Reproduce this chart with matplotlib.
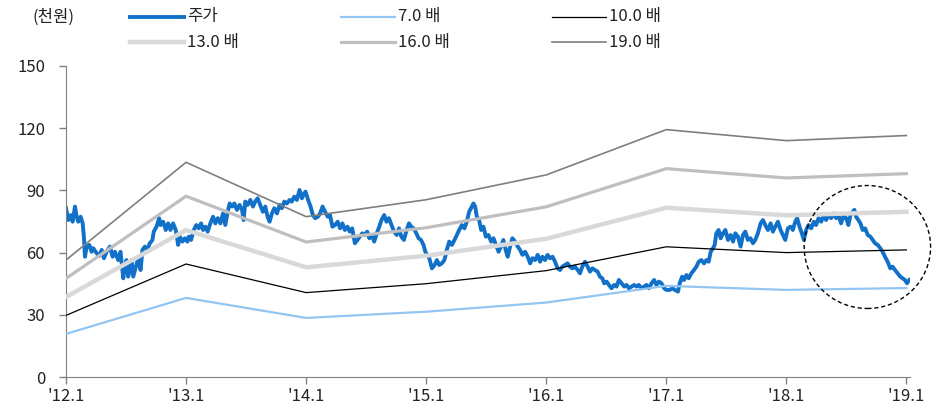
import matplotlib
matplotlib.use("Agg")
import matplotlib.pyplot as plt
from matplotlib.lines import Line2D
from matplotlib.patches import Ellipse
import numpy as np

plt.rcParams['font.family'] = ['Noto Sans CJK KR', 'DejaVu Sans']

# --- Year-start EPS used for the PER bands (thousand won) ---
band_years = [0, 1, 2, 3, 4, 5, 6, 7]
eps = [2.97, 5.45, 4.07, 4.50, 5.13, 6.28, 6.00, 6.13]
multiples = [7.0, 10.0, 13.0, 16.0, 19.0]

tick_labels = ["'12.1", "'13.1", "'14.1", "'15.1", "'16.1", "'17.1", "'18.1", "'19.1"]

# --- Share price (years since Jan 2012, thousand won) ---
price_t = [
    0.000, 0.019, 0.039, 0.055, 0.075, 0.089, 0.102, 0.122, 0.139, 0.150, 0.158, 0.172, 0.194, 0.213,
    0.227, 0.255, 0.277, 0.297, 0.316, 0.338, 0.366, 0.388, 0.407, 0.435, 0.454, 0.477, 0.490, 0.504,
    0.518, 0.532, 0.546, 0.560, 0.582, 0.601, 0.621, 0.637, 0.657, 0.676, 0.698, 0.720, 0.731, 0.754,
    0.776, 0.787, 0.809, 0.831, 0.851, 0.870, 0.892, 0.914, 0.934, 0.948, 0.970, 0.989, 1.011,
    1.022, 1.042, 1.064, 1.086, 1.106, 1.125, 1.142, 1.161, 1.180, 1.202, 1.225, 1.244, 1.264, 1.286,
    1.308, 1.327, 1.347, 1.363, 1.383, 1.402, 1.424, 1.446, 1.466, 1.480, 1.493, 1.513, 1.535, 1.557,
    1.576, 1.596, 1.618, 1.640, 1.660, 1.679, 1.696, 1.715, 1.735, 1.757, 1.779, 1.798, 1.818, 1.840,
    1.862, 1.881, 1.901, 1.923, 1.945, 1.965, 1.984,
    1.995, 2.017, 2.037, 2.056, 2.076, 2.098, 2.117, 2.137, 2.158, 2.180, 2.199, 2.219, 2.241, 2.263,
    2.283, 2.302, 2.323, 2.345, 2.364, 2.384, 2.406, 2.428, 2.448, 2.467, 2.486, 2.509, 2.527, 2.547,
    2.567, 2.589, 2.609, 2.628, 2.650, 2.670, 2.690, 2.711, 2.733, 2.755, 2.774, 2.793, 2.815, 2.837,
    2.857, 2.876, 2.896, 2.918, 2.937, 2.957, 2.978, 2.993,
    3.026, 3.048, 3.070, 3.089, 3.109, 3.130, 3.152, 3.172, 3.192, 3.214, 3.236, 3.255, 3.275, 3.297,
    3.319, 3.338, 3.358, 3.380, 3.394, 3.408, 3.422, 3.441, 3.458, 3.477, 3.497, 3.519, 3.541, 3.561,
    3.581, 3.603, 3.623, 3.643, 3.662, 3.679, 3.699, 3.718, 3.741, 3.763, 3.782, 3.802, 3.824, 3.846,
    3.866, 3.885, 3.907, 3.929, 3.949, 3.968, 3.990, 4.011, 4.031, 4.053,
    4.073, 4.095, 4.115, 4.134, 4.156, 4.178, 4.198, 4.217, 4.239, 4.262, 4.281, 4.300, 4.323, 4.345,
    4.364, 4.384, 4.406, 4.428, 4.447, 4.467, 4.483, 4.503, 4.522, 4.544, 4.566, 4.586, 4.605, 4.627,
    4.650, 4.669, 4.688, 4.711, 4.733, 4.752, 4.771, 4.794, 4.816, 4.835, 4.855, 4.877, 4.899, 4.918,
    4.938, 4.960, 4.982, 5.001, 5.029, 5.051,
    5.071, 5.098, 5.112, 5.132, 5.148, 5.168, 5.187, 5.209, 5.231, 5.251, 5.270, 5.292, 5.314, 5.334,
    5.353, 5.370, 5.389, 5.403, 5.417, 5.436, 5.453, 5.473, 5.492, 5.514, 5.536, 5.556, 5.575, 5.597,
    5.619, 5.639, 5.658, 5.680, 5.702, 5.722, 5.741, 5.763, 5.786, 5.805, 5.824, 5.847, 5.869, 5.888,
    5.908, 5.930, 5.952, 5.971, 5.991, 6.013, 6.035, 6.049,
    6.054, 6.074, 6.090, 6.110, 6.129, 6.146, 6.165, 6.185, 6.207, 6.229, 6.248, 6.268, 6.290, 6.312,
    6.331, 6.351, 6.373, 6.395, 6.415, 6.434, 6.456, 6.478, 6.498, 6.517, 6.534, 6.553, 6.567, 6.581,
    6.600, 6.617, 6.636, 6.656, 6.678, 6.700, 6.719, 6.739, 6.761, 6.783, 6.802, 6.822, 6.844, 6.866,
    6.885, 6.905, 6.927, 6.949, 6.969, 6.988, 7.005, 7.024,
]
price_v = [
    81.4, 75.7, 78.1, 74.9, 82.2, 77.3, 74.9, 77.3, 74.1, 66.9, 58.0, 62.9, 63.7, 60.4,
    62.1, 59.7, 58.4, 61.3, 57.3, 60.4, 62.9, 58.0, 60.4, 56.4, 60.4, 47.6, 53.2, 56.4,
    48.4, 51.6, 56.4, 48.4, 53.2, 57.3, 51.6, 61.3, 62.9, 61.3, 64.5, 66.1, 70.1, 72.5,
    76.6, 73.3, 74.9, 70.9, 74.1, 70.9, 74.1, 70.9, 63.7, 67.7, 65.3, 66.9, 65.3,
    67.7, 66.1, 70.9, 73.3, 71.7, 74.1, 70.9, 72.5, 70.1, 74.1, 77.3, 74.1, 76.6, 74.1,
    78.9, 73.3, 79.7, 83.7, 82.2, 83.7, 80.6, 83.0, 80.6, 75.7, 84.6, 83.0, 85.4, 82.2,
    84.6, 86.2, 83.0, 79.7, 82.2, 77.3, 74.9, 78.9, 81.4, 78.9, 83.0, 81.4, 84.6, 83.7,
    85.4, 84.6, 87.0, 85.4, 90.2, 86.2, 88.6,
    89.4, 85.4, 82.2, 78.1, 76.6, 77.3, 78.9, 82.2, 79.7, 77.3, 78.1, 72.5, 73.3, 74.9,
    71.7, 74.1, 70.9, 72.5, 70.1, 71.7, 64.5, 66.1, 67.7, 69.3, 68.5, 70.1, 66.9, 68.5,
    65.3, 69.3, 72.5, 75.7, 78.1, 74.9, 76.6, 73.3, 70.1, 68.5, 71.7, 67.7, 66.1, 70.9,
    74.1, 72.5, 71.7, 69.3, 66.9, 66.1, 63.7, 60.4,
    57.3, 52.4, 54.0, 56.4, 54.0, 54.8, 56.4, 61.3, 65.3, 63.7, 66.1, 68.5, 70.9, 73.3,
    71.7, 74.9, 79.7, 82.2, 83.7, 82.2, 77.3, 75.7, 70.9, 72.5, 67.7, 68.5, 65.3, 66.9,
    63.7, 60.4, 62.9, 66.1, 61.3, 58.0, 62.9, 66.9, 65.3, 62.9, 61.3, 58.9, 60.4, 58.0,
    54.8, 57.3, 56.4, 58.9, 55.6, 58.0, 56.4, 58.9, 57.3, 58.0,
    55.6, 52.4, 51.6, 53.2, 54.0, 54.8, 53.2, 52.4, 53.2, 51.6, 50.0, 53.2, 55.6, 53.2,
    50.8, 52.4, 51.6, 50.8, 48.4, 47.6, 45.2, 46.0, 44.4, 42.8, 44.4, 43.6, 46.8, 45.2,
    43.6, 44.4, 42.8, 43.6, 44.4, 43.6, 44.4, 42.8, 43.6, 44.4, 42.8, 45.2, 46.8, 44.4,
    46.0, 45.2, 42.8, 42.0, 42.0, 42.8,
    42.0, 41.2, 45.2, 48.4, 46.8, 49.2, 47.6, 50.0, 51.6, 53.2, 55.6, 56.4, 54.8, 56.4,
    55.6, 60.4, 62.1, 63.7, 69.3, 70.9, 66.9, 69.3, 70.9, 66.1, 68.5, 65.3, 69.3, 67.7,
    62.9, 68.5, 70.1, 66.1, 66.9, 64.5, 66.1, 69.3, 74.1, 75.7, 73.3, 70.9, 74.1, 70.1,
    72.5, 74.9, 70.9, 68.5, 66.1, 71.7, 72.5, 71.7,
    70.9, 74.9, 76.6, 72.5, 69.3, 66.1, 70.9, 73.3, 71.7, 74.9, 73.3, 76.6, 74.9, 78.1,
    75.7, 78.1, 76.6, 78.9, 76.6, 78.1, 74.1, 78.1, 76.6, 73.3, 78.1, 79.7, 80.6, 77.3,
    75.7, 74.1, 70.9, 71.7, 68.5, 67.7, 66.1, 64.5, 63.7, 62.1, 60.4, 58.0, 55.6, 52.4,
    53.2, 51.6, 50.0, 48.4, 47.6, 46.8, 45.2, 46.8,
]

# --- Styles ---
price_style = dict(color='#1170C8', lw=2.8, label='주가')
band_styles = [
    dict(color='#92C5F2', lw=1.6),
    dict(color='#000000', lw=0.9),
    dict(color='#D9D9D9', lw=3.2),
    dict(color='#BFBFBF', lw=2.3),
    dict(color='#7F7F7F', lw=1.2),
]

fig = plt.figure(figsize=(9.4, 4.16), dpi=100)
ax = fig.add_axes([66 / 940, 39 / 416, (910 - 66) / 940, (377 - 66) / 416])

ax.plot(price_t, price_v, zorder=2, solid_joinstyle='round', **price_style)
for m, st in zip(multiples, band_styles):
    ax.plot(band_years, np.array(eps) * m, zorder=3, label=f'{m:.1f} 배', **st)

# highlight circle around the recent drop
circle = Ellipse((6.675, 62.7), 1.053, 59.3, fill=False, ec='#000000',
                 lw=1.0, ls=(0, (3, 2)), clip_on=False, zorder=5)
ax.add_patch(circle)

ax.set_xlim(0, 7.03)
ax.set_ylim(0, 150)
ax.set_yticks([0, 30, 60, 90, 120, 150])
ax.set_xticks(band_years)
ax.set_xticklabels(tick_labels)

for side in ['top', 'right']:
    ax.spines[side].set_visible(False)
ax.spines['left'].set_color('#808080')
ax.spines['bottom'].set_color('#808080')
ax.tick_params(axis='both', direction='out', length=5, width=1, color='#808080',
               labelsize=12, labelcolor='#222222')
ax.tick_params(axis='y', pad=10)
ax.tick_params(axis='x', pad=3)

# --- Legend drawn in figure pixels ---
fig.text(32 / 940, 1 - 17 / 416, '(천원)', ha='left', va='center',
         fontsize=12, color='#222222')
legend_items = [('주가', price_style)] + [
    (f'{m:.1f} 배', st) for m, st in zip(multiples, band_styles)]
col_x = [130, 341, 552]
row_y = [17, 42]
for i, (name, st) in enumerate(legend_items):
    x0 = col_x[i % 3]
    y0 = row_y[i // 3]
    yf = 1 - y0 / 416
    fig.add_artist(Line2D([x0 / 940, (x0 + 54) / 940], [yf, yf],
                          color=st['color'], lw=st['lw'],
                          transform=fig.transFigure))
    fig.text((x0 + 57) / 940, yf, name, ha='left', va='center',
             fontsize=12, color='#222222')

fig.savefig('out.png', dpi=100)
